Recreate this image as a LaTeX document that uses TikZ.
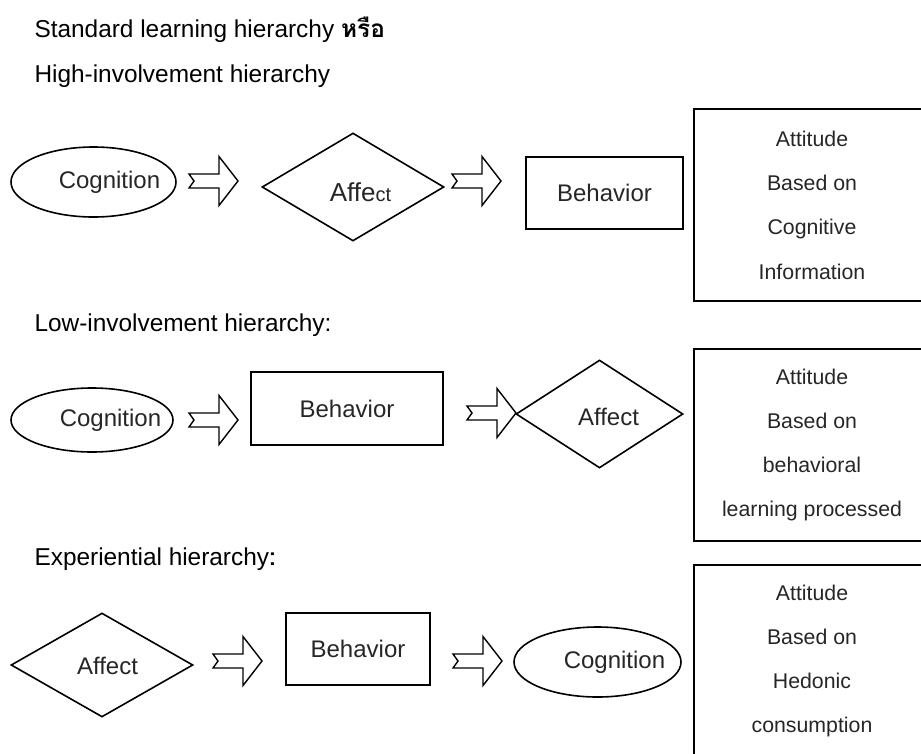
\documentclass[tikz,border=0pt]{standalone}
\usepackage{fontspec}
\setmainfont{Liberation Sans}
\newfontfamily\thaifont[Script=Thai]{Loma}
\usetikzlibrary{shapes.geometric}

\begin{document}
\begin{tikzpicture}[x=1pt, y=-1pt,
    title/.style={anchor=base west, font=\fontsize{24.4}{28}\selectfont},
    shp/.style={draw, line width=1.6pt, inner sep=0pt},
    oval/.style={shp, ellipse},
    rhomb/.style={shp, diamond},
    boxnode/.style={shp, rectangle},
    ntext/.style={font=\fontsize{24}{28}\selectfont, text=black!85},
    attbox/.style={shp, rectangle, minimum width=236pt, minimum height=192pt, align=center,
        font=\fontsize{21.3}{44.3}\selectfont, text=black!85},
    blockarrow/.pic={\draw[line width=1.4pt, line join=miter]
        (0,-7) -- (30,-7) -- (30,-24.5) -- (49,0) -- (30,24.5) -- (30,7) -- (0,7) -- (5,0) -- cycle;}]
    \useasboundingbox (0,0) rectangle (921,753);

    % 标题
    \node[title] (t1) at (31,37) {Standard learning hierarchy {\thaifont\bfseries หรือ}};
    \node[title] (t2) at (31,82) {High-involvement hierarchy};

    % 第一行 Cognition -> Affect -> Behavior
    \node[oval, minimum width=165pt, minimum height=70pt,
        label={[ntext, xshift=16pt]center:Cognition}] (cog1) at (93.5,182) {};
    \pic at (189,181) {blockarrow};
    \node[rhomb, minimum width=182pt, minimum height=108pt,
        label={[ntext, xshift=7.5pt, yshift=-5pt]center:{\fontsize{26}{28}\selectfont Affe}{\fontsize{20}{28}\selectfont ct}}] (aff1) at (353,187) {};
    \pic at (452,181) {blockarrow};
    \node[boxnode, ntext, minimum width=157pt, minimum height=72pt] (beh1) at (604.5,193) {Behavior};
    \node[attbox] (att1) at (812,205) {Attitude\\Based on\\Cognitive\\Information};

    % 第二行 Cognition -> Behavior -> Affect
    \node[title] (t3) at (31,331) {Low-involvement hierarchy:};
    \node[oval, minimum width=162pt, minimum height=64pt,
        label={[ntext, xshift=18.5pt]center:Cognition}] (cog2) at (92,420) {};
    \pic at (189,420) {blockarrow};
    \node[boxnode, ntext, minimum width=192pt, minimum height=73pt] (beh2) at (347,408.5) {Behavior};
    \pic at (467,413) {blockarrow};
    \node[rhomb, minimum width=167pt, minimum height=108pt,
        label={[ntext, xshift=9pt, yshift=-2.5pt]center:Affect}] (aff2) at (599.5,414) {};
    \node[attbox] (att2) at (812,445) {Attitude\\Based on\\behavioral\\learning processed};

    % 第三行 Affect -> Behavior -> Cognition
    \node[title] (t4) at (31,565) {Experiential hierarchy{\thaifont\bfseries :}};
    \node[rhomb, minimum width=182pt, minimum height=104pt,
        label={[ntext, xshift=5.5pt, yshift=-1pt]center:Affect}] (aff3) at (102,665) {};
    \pic at (213,661) {blockarrow};
    \node[boxnode, ntext, minimum width=144pt, minimum height=72pt] (beh3) at (358,649) {Behavior};
    \pic at (453,661) {blockarrow};
    \node[oval, minimum width=167pt, minimum height=70pt,
        label={[ntext, xshift=17pt]center:Cognition}] (cog3) at (597.5,662) {};
    \node[attbox] (att3) at (812,661) {Attitude\\Based on\\Hedonic\\consumption};
\end{tikzpicture}
\end{document}
